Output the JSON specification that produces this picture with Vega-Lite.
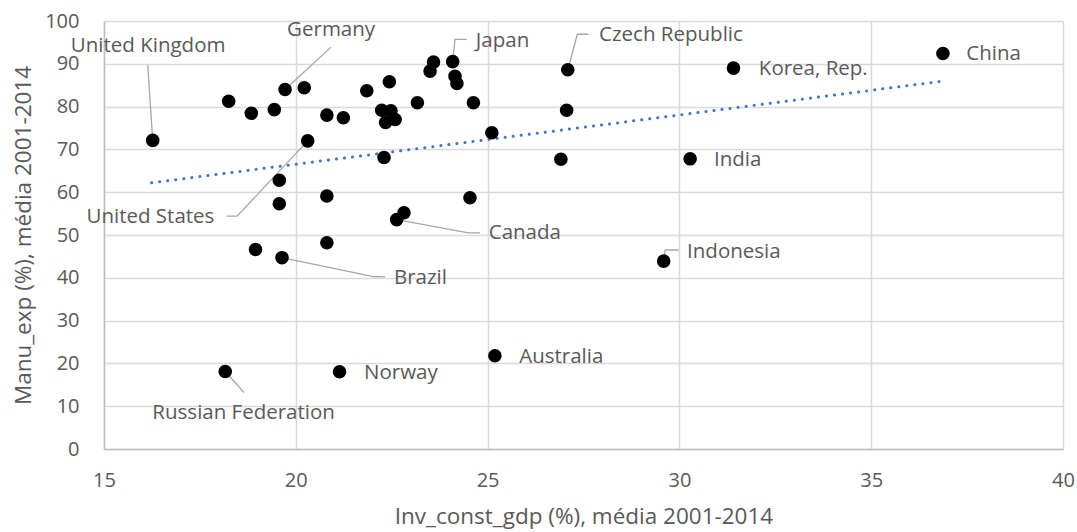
{
  "$schema": "https://vega.github.io/schema/vega-lite/v6.json",
  "width": 959,
  "height": 428,
  "autosize": "none",
  "padding": {"left": 104, "top": 21, "right": 14, "bottom": 83},
  "config": {
    "font": "Open Sans",
    "view": {"stroke": null},
    "axis": {
      "grid": true,
      "gridColor": "#d9d9d9",
      "gridWidth": 1.5,
      "domainColor": "#bfbfbf",
      "domainWidth": 1.5,
      "ticks": false,
      "labelFontSize": 20,
      "labelColor": "#595959",
      "labelFlush": false,
      "titleFontSize": 22.5,
      "titleColor": "#595959",
      "titleFontWeight": "normal"
    }
  },
  "datasets": {
    "pts": [
      {"country": "United Kingdom", "x": 16.27, "y": 72.1},
      {"country": "a", "x": 18.25, "y": 81.25},
      {"country": "b", "x": 18.84, "y": 78.45},
      {"country": "c", "x": 19.44, "y": 79.3},
      {"country": "Germany", "x": 19.72, "y": 84.0},
      {"country": "d", "x": 20.22, "y": 84.4},
      {"country": "e", "x": 20.81, "y": 78.0},
      {"country": "f", "x": 21.24, "y": 77.4},
      {"country": "United States", "x": 20.31, "y": 72.0},
      {"country": "g", "x": 19.57, "y": 62.8},
      {"country": "h", "x": 19.57, "y": 57.3},
      {"country": "i", "x": 20.81, "y": 59.1},
      {"country": "j", "x": 18.95, "y": 46.6},
      {"country": "Brazil", "x": 19.64, "y": 44.7},
      {"country": "k", "x": 20.81, "y": 48.2},
      {"country": "Russian Federation", "x": 18.16, "y": 18.1},
      {"country": "Norway", "x": 21.14, "y": 18.05},
      {"country": "l", "x": 21.85, "y": 83.7},
      {"country": "m", "x": 22.44, "y": 85.8},
      {"country": "n", "x": 22.24, "y": 79.15},
      {"country": "o", "x": 22.48, "y": 79.0},
      {"country": "p", "x": 22.59, "y": 77.0},
      {"country": "q", "x": 22.34, "y": 76.3},
      {"country": "r", "x": 23.17, "y": 80.9},
      {"country": "s", "x": 23.5, "y": 88.3},
      {"country": "t", "x": 23.59, "y": 90.4},
      {"country": "Japan", "x": 24.09, "y": 90.5},
      {"country": "u", "x": 24.15, "y": 87.1},
      {"country": "v", "x": 24.2, "y": 85.4},
      {"country": "w", "x": 24.63, "y": 80.9},
      {"country": "x", "x": 25.11, "y": 73.9},
      {"country": "y", "x": 22.3, "y": 68.1},
      {"country": "Czech Republic", "x": 27.09, "y": 88.6},
      {"country": "z", "x": 27.06, "y": 79.15},
      {"country": "aa", "x": 26.91, "y": 67.7},
      {"country": "India", "x": 30.28, "y": 67.8},
      {"country": "ab", "x": 24.54, "y": 58.7},
      {"country": "ac", "x": 22.82, "y": 55.2},
      {"country": "Canada", "x": 22.63, "y": 53.6},
      {"country": "Indonesia", "x": 29.59, "y": 43.9},
      {"country": "Australia", "x": 25.19, "y": 21.8},
      {"country": "Korea, Rep.", "x": 31.41, "y": 89.0},
      {"country": "China", "x": 36.87, "y": 92.4}
    ],
    "labels": [
      {"label": "United Kingdom", "x": 16.15, "y": 94.1},
      {"label": "Germany", "x": 20.92, "y": 97.9},
      {"label": "Japan", "x": 25.39, "y": 95.3},
      {"label": "Czech Republic", "x": 29.78, "y": 96.7},
      {"label": "Korea, Rep.", "x": 33.49, "y": 88.7},
      {"label": "China", "x": 38.19, "y": 92.2},
      {"label": "India", "x": 31.52, "y": 67.5},
      {"label": "Indonesia", "x": 31.42, "y": 46.1},
      {"label": "Australia", "x": 26.92, "y": 21.55},
      {"label": "Norway", "x": 22.74, "y": 17.7},
      {"label": "Brazil", "x": 23.25, "y": 40.0},
      {"label": "Canada", "x": 25.97, "y": 50.4},
      {"label": "United States", "x": 16.21, "y": 54.2},
      {"label": "Russian Federation", "x": 18.64, "y": 8.5}
    ],
    "leaders": [
      {"label": "United Kingdom", "o": 1, "x": 16.14, "y": 89.7},
      {"label": "United Kingdom", "o": 2, "x": 16.27, "y": 72.1},
      {"label": "Germany", "o": 1, "x": 20.92, "y": 93.9},
      {"label": "Germany", "o": 2, "x": 19.72, "y": 84.0},
      {"label": "Japan", "o": 1, "x": 24.46, "y": 95.7},
      {"label": "Japan", "o": 2, "x": 24.15, "y": 95.7},
      {"label": "Japan", "o": 3, "x": 24.09, "y": 90.5},
      {"label": "Czech Republic", "o": 1, "x": 27.63, "y": 96.9},
      {"label": "Czech Republic", "o": 2, "x": 27.34, "y": 96.9},
      {"label": "Czech Republic", "o": 3, "x": 27.09, "y": 88.6},
      {"label": "Indonesia", "o": 1, "x": 29.98, "y": 46.5},
      {"label": "Indonesia", "o": 2, "x": 29.63, "y": 46.5},
      {"label": "Indonesia", "o": 3, "x": 29.59, "y": 43.9},
      {"label": "Brazil", "o": 1, "x": 22.33, "y": 40.2},
      {"label": "Brazil", "o": 2, "x": 22.02, "y": 40.3},
      {"label": "Brazil", "o": 3, "x": 19.64, "y": 44.7},
      {"label": "Canada", "o": 1, "x": 24.8, "y": 50.5},
      {"label": "Canada", "o": 2, "x": 24.5, "y": 50.5},
      {"label": "Canada", "o": 3, "x": 22.63, "y": 53.6},
      {"label": "United States", "o": 1, "x": 18.2, "y": 54.4},
      {"label": "United States", "o": 2, "x": 18.47, "y": 54.4},
      {"label": "United States", "o": 3, "x": 20.31, "y": 72.0},
      {"label": "Russian Federation", "o": 1, "x": 18.65, "y": 13.2},
      {"label": "Russian Federation", "o": 2, "x": 18.16, "y": 18.1}
    ],
    "trend": [
      {"x": 16.24, "y": 62.2},
      {"x": 36.82, "y": 85.9}
    ]
  },
  "encoding": {
    "x": {
      "field": "x",
      "type": "quantitative",
      "scale": {"domain": [15, 40], "nice": false, "zero": false},
      "axis": {"values": [15, 20, 25, 30, 35, 40], "labelPadding": 21, "title": "Inv_const_gdp (%), média 2001-2014", "titlePadding": 15}
    },
    "y": {
      "field": "y",
      "type": "quantitative",
      "scale": {"domain": [0, 100], "nice": false},
      "axis": {"values": [0, 10, 20, 30, 40, 50, 60, 70, 80, 90, 100], "labelPadding": 25, "title": "Manu_exp (%), média 2001-2014", "titlePadding": 9}
    }
  },
  "layer": [
    {
      "data": {"name": "trend"},
      "mark": {"type": "line", "color": "#4472C4", "strokeWidth": 3, "strokeCap": "round", "strokeDash": [0.1, 8]}
    },
    {
      "data": {"name": "leaders"},
      "mark": {"type": "line", "color": "#a6a6a6", "strokeWidth": 1.3},
      "encoding": {"detail": {"field": "label"}, "order": {"field": "o", "type": "quantitative"}}
    },
    {
      "data": {"name": "pts"},
      "mark": {"type": "circle", "color": "#000000", "opacity": 1, "size": 185}
    },
    {
      "data": {"name": "labels"},
      "mark": {"type": "text", "align": "center", "baseline": "middle", "fontSize": 20.5, "color": "#595959"},
      "encoding": {"text": {"field": "label"}}
    }
  ]
}
